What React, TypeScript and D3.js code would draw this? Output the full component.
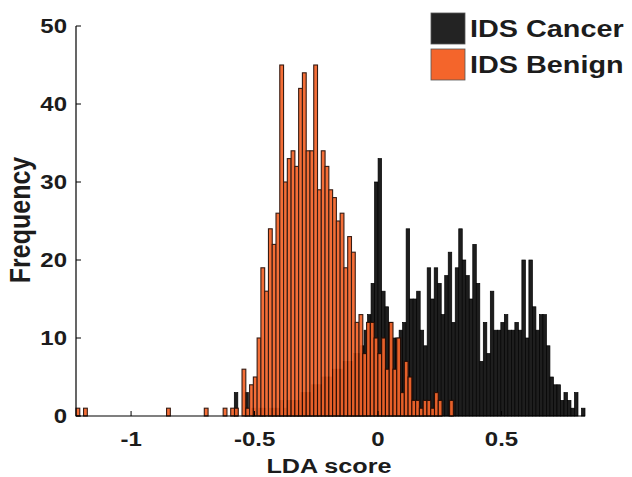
import React from 'react';
import * as d3 from 'd3';

// bin counts (100 bins each, like hist(x, 100))
const benignCounts = [
  1, 0, 1, 0, 0, 0, 0, 0, 0, 0, 0, 0, 0, 0, 0, 0, 0, 0, 0, 0,
  0, 0, 0, 0, 1, 0, 0, 0, 0, 0, 0, 0, 0, 0, 1, 0, 0, 0, 0, 1,
  0, 1, 1, 0, 6, 1, 4, 5, 10, 19, 16, 24, 22, 26, 45, 30, 33, 34, 32, 42,
  44, 34, 34, 45, 29, 34, 32, 29, 28, 25, 26, 19, 23, 21, 12, 13, 8, 12, 12, 10,
  8, 10, 6, 12, 6, 10, 3, 7, 5, 2, 2, 1, 2, 2, 1, 3, 2, 0, 0, 2,
];
const cancerCounts = [
  3, 0, 0, 3, 0, 1, 0, 1, 1, 0, 1, 1, 1, 2, 1, 2, 2, 2, 2, 3,
  3, 3, 4, 4, 4, 5, 5, 5, 6, 6, 6, 7, 7, 7, 8, 8, 9, 11, 13, 17,
  30, 33, 16, 14, 12, 10, 10, 11, 12, 24, 15, 15, 16, 11, 9, 19, 15, 19, 17, 13,
  18, 21, 12, 19, 24, 20, 18, 15, 22, 17, 7, 12, 8, 16, 11, 11, 12, 13, 11, 11,
  12, 11, 20, 10, 20, 14, 11, 13, 13, 9, 5, 4, 4, 2, 3, 2, 1, 3, 0, 1,
];
const benignRange: [number, number] = [-1.223, 0.305];
const cancerRange: [number, number] = [-0.582, 0.838];
const xTicks = [-1, -0.5, 0, 0.5];
const yTicks = [0, 10, 20, 30, 40, 50];
const seriesNames = ['IDS Cancer', 'IDS Benign'];

const W = 632;
const H = 477;
const plot = { left: 76, right: 585, top: 26, bottom: 416 };
const font = 'Liberation Sans, Arial, Helvetica, sans-serif';
const stretch = 1.2;

function toBins(counts: number[], range: [number, number]) {
  const step = (range[1] - range[0]) / counts.length;
  return counts.map((c, i) => ({ x0: range[0] + i * step, x1: range[0] + (i + 1) * step, c }));
}

const Label = ({ x, y, size, anchor = 'middle', rotate = 0, children }: any) => (
  <text
    transform={`translate(${x},${y}) rotate(${rotate}) scale(${rotate ? 1 : stretch},${rotate ? stretch : 1})`}
    textAnchor={anchor}
    fontFamily={font}
    fontWeight="bold"
    fontSize={size}
    fill="#1c1c1c"
  >
    {children}
  </text>
);

export default function App() {
  const x = d3.scaleLinear().domain([benignRange[0], cancerRange[1]]).range([plot.left, plot.right]);
  const y = d3.scaleLinear().domain([0, 50]).range([plot.bottom, plot.top]);

  const cancer = toBins(cancerCounts, cancerRange).filter((d) => d.c > 0);
  const benign = toBins(benignCounts, benignRange).filter((d) => d.c > 0);

  return (
    <svg width={W} height={H} style={{ position: 'absolute', left: 0, top: 0, background: '#fff' }}>
      <g>
        {cancer.map((d, i) => (
          <rect
            key={'c' + i}
            x={x(d.x0)}
            y={y(d.c)}
            width={x(d.x1) - x(d.x0)}
            height={y(0) - y(d.c)}
            fill="#1e1e1e"
            stroke="#000"
            strokeWidth={0.7}
          />
        ))}
      </g>
      <g opacity={0.94}>
        {benign.map((d, i) => (
          <rect
            key={'b' + i}
            x={x(d.x0)}
            y={y(d.c)}
            width={x(d.x1) - x(d.x0)}
            height={y(0) - y(d.c)}
            fill="#f4652b"
            stroke="#2a0e05"
            strokeWidth={1.1}
          />
        ))}
      </g>

      {/* axes */}
      <line x1={plot.left} x2={plot.left} y1={plot.top} y2={plot.bottom} stroke="#000" strokeWidth={1.2} />
      <line x1={plot.left} x2={plot.right} y1={plot.bottom} y2={plot.bottom} stroke="#000" strokeWidth={1.2} />
      {yTicks.map((t) => (
        <g key={'y' + t}>
          <line x1={plot.left} x2={plot.left + 5} y1={y(t)} y2={y(t)} stroke="#000" strokeWidth={1} />
          <Label x={plot.left - 9} y={y(t) + 7} size={20} anchor="end">{t}</Label>
        </g>
      ))}
      {xTicks.map((t) => (
        <g key={'x' + t}>
          <line x1={x(t)} x2={x(t)} y1={plot.bottom} y2={plot.bottom - 5} stroke="#000" strokeWidth={1} />
          <Label x={x(t)} y={446} size={20}>{t}</Label>
        </g>
      ))}
      <Label x={329} y={473} size={21}>LDA score</Label>
      <Label x={30} y={220} size={25} rotate={-90}>Frequency</Label>

      {/* legend */}
      {seriesNames.map((name, i) => (
        <g key={name}>
          <rect
            x={431}
            y={13 + i * 36}
            width={34}
            height={31}
            fill={i === 0 ? '#232323' : '#f4652b'}
            stroke="#555"
            strokeWidth={0.8}
          />
          <Label x={470} y={37 + i * 36} size={24} anchor="start">{name}</Label>
        </g>
      ))}
    </svg>
  );
}
